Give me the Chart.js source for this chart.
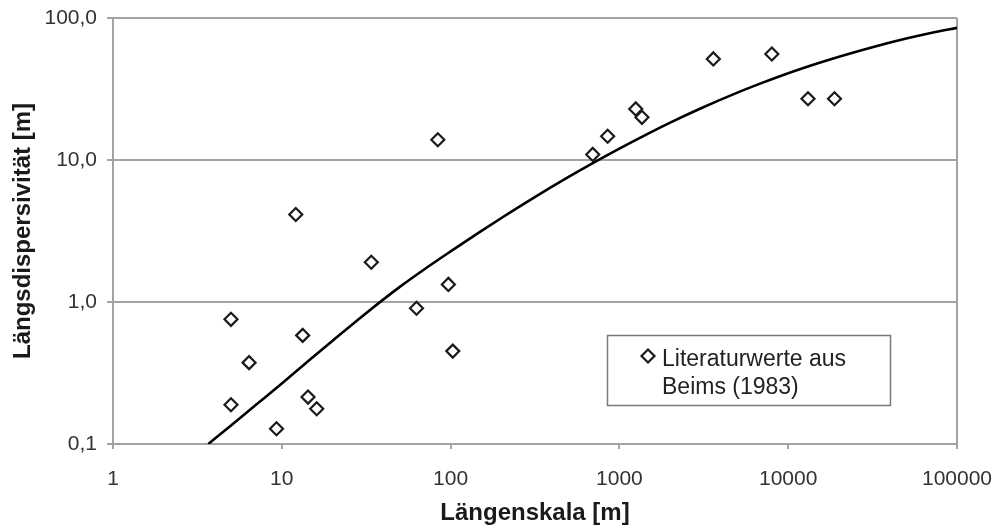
<!DOCTYPE html>
<html><head><meta charset="utf-8">
<script src="https://cdn.jsdelivr.net/npm/chart.js@4"></script>
<style>html,body{margin:0;padding:0;background:#fff}canvas{display:block}</style>
</head><body>
<canvas id="c" width="997" height="528"></canvas>
<script>
// Literature values (Beims 1983)
const lengthScale  = [5.0, 6.4, 5.0, 9.3, 12.1, 13.3, 14.3, 16.1, 33.9, 62.8, 97, 103, 84, 695, 852, 1250, 1360, 3600, 8000, 13100, 18800];
const dispersivity = [0.755, 0.374, 0.189, 0.128, 4.13, 0.582, 0.214, 0.177, 1.905, 0.903, 1.33, 0.451, 13.9, 10.95, 14.7, 22.9, 19.97, 51.5, 55.8, 27.0, 27.0];
// fitted curve
const fitLength       = [3.67, 5, 7, 10, 15, 20, 30, 50, 70, 100, 150, 200, 300, 500, 700, 1000, 1500, 2000, 3000, 5000, 7000, 10000, 15000, 20000, 30000, 50000, 70000, 100000];
const fitDispersivity = [0.1, 0.135, 0.188, 0.267, 0.401, 0.534, 0.795, 1.278, 1.702, 2.272, 3.13, 3.906, 5.284, 7.595, 9.544, 12.03, 15.47, 18.34, 22.96, 29.81, 34.91, 40.84, 48.02, 53.42, 61.33, 71.68, 78.46, 85.3];
const xTickValues = [1, 10, 100, 1000, 10000, 100000];
const xTickLabels = ['1', '10', '100', '1000', '10000', '100000'];
const yTickValues = [0.1, 1, 10, 100];
const yTickLabels = ['0,1', '1,0', '10,0', '100,0'];
const seriesLabel = ['Literaturwerte aus', 'Beims (1983)'];
const xTitle = 'Längenskala [m]';
const yTitle = 'Längsdispersivität [m]';

const FONT = "'Liberation Sans', Arial, Helvetica, sans-serif";
const GRID = '#a3a3a3';

const pointData = lengthScale.map((x, i) => ({x, y: dispersivity[i]}));
const curveData = fitLength.map((x, i) => ({x, y: fitDispersivity[i]}));

const legendBox = {
  id: 'legendBox',
  afterDraw(chart) {
    const ctx = chart.ctx;
    ctx.save();
    ctx.fillStyle = '#ffffff';
    ctx.fillRect(607, 335, 283, 70);
    ctx.strokeStyle = '#7a7a7a';
    ctx.lineWidth = 1.5;
    ctx.strokeRect(607.5, 335.5, 283, 70);
    ctx.fillStyle = 'rgba(0,0,0,0)';
    ctx.strokeStyle = '#1a1a1a';
    ctx.lineWidth = 2.2;
    Chart.helpers.drawPoint(ctx, {pointStyle: 'rectRot', radius: 6.5, rotation: 0, borderWidth: 2.2}, 648, 356);
    ctx.fillStyle = '#222';
    ctx.font = '23px ' + FONT;
    ctx.textBaseline = 'middle';
    ctx.textAlign = 'left';
    seriesLabel.forEach((t, i) => ctx.fillText(t, 662, 360 + i * 28));
    ctx.restore();
  }
};

new Chart(document.getElementById('c'), {
  type: 'scatter',
  data: {
    datasets: [
      {
        label: seriesLabel.join(' '),
        data: pointData,
        pointStyle: 'rectRot',
        pointRadius: 6.5,
        pointBorderWidth: 2.2,
        pointBorderColor: '#1a1a1a',
        pointBackgroundColor: 'rgba(0,0,0,0)',
        order: 1
      },
      {
        type: 'line',
        label: 'fit',
        data: curveData,
        borderColor: '#000',
        borderWidth: 2.6,
        pointRadius: 0,
        fill: false,
        cubicInterpolationMode: 'monotone',
        order: 2
      }
    ]
  },
  options: {
    responsive: false,
    devicePixelRatio: 1,
    animation: false,
    layout: {padding: {top: 18, right: 40, left: 0, bottom: 0}},
    plugins: {legend: {display: false}, tooltip: {enabled: false}},
    scales: {
      x: {
        type: 'logarithmic',
        position: 'bottom',
        min: 1, max: 100000,
        afterBuildTicks: s => { s.ticks = xTickValues.map(v => ({value: v})); },
        afterFit: s => { s.height = 84; s.paddingLeft = 0; s.paddingRight = 0; },
        ticks: {
          callback: (v, i) => xTickLabels[i],
          font: {family: FONT, size: 21},
          color: '#333',
          padding: 18,
          maxRotation: 0,
          autoSkip: false
        },
        grid: {
          color: c => (c.index === xTickValues.length - 1 ? GRID : 'rgba(0,0,0,0)'),
          tickColor: GRID,
          lineWidth: 2,
          tickLength: 5
        },
        border: {display: true, color: GRID, width: 2},
        title: {display: true, text: xTitle, font: {family: FONT, size: 24, weight: 'bold'}, color: '#1a1a1a', padding: {top: 0, bottom: 0}}
      },
      y: {
        type: 'logarithmic',
        min: 0.1, max: 100,
        afterBuildTicks: s => { s.ticks = yTickValues.map(v => ({value: v})); },
        afterFit: s => { s.width = 113; s.paddingTop = 0; s.paddingBottom = 0; },
        ticks: {
          callback: (v, i) => yTickLabels[i],
          font: {family: FONT, size: 21},
          color: '#333',
          padding: 10,
          autoSkip: false
        },
        grid: {color: GRID, lineWidth: 2, tickLength: 6, tickColor: GRID},
        border: {display: true, color: GRID, width: 2},
        title: {display: true, text: yTitle, font: {family: FONT, size: 24, weight: 'bold'}, color: '#1a1a1a', padding: {top: 9, bottom: 0}}
      }
    }
  },
  plugins: [legendBox]
});
</script>
</body></html>
